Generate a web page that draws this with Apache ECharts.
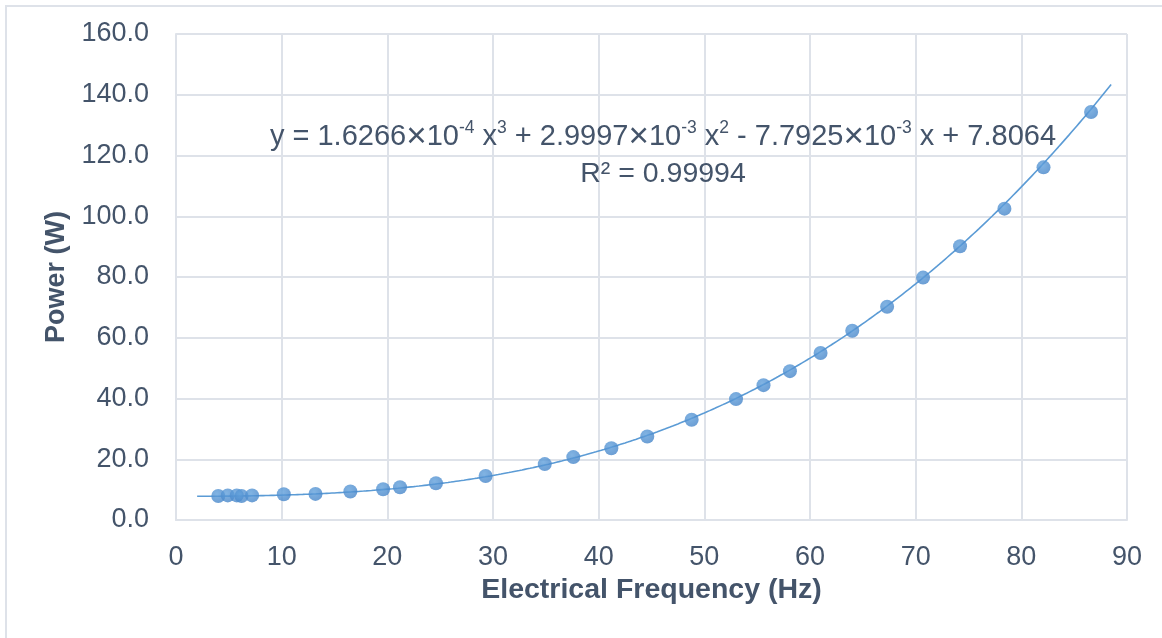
<!DOCTYPE html>
<html>
<head>
<meta charset="utf-8">
<script src="https://cdn.jsdelivr.net/npm/echarts@6/dist/echarts.min.js"></script>
<style>
  html, body { margin: 0; padding: 0; background: #ffffff; }
  #chart { width: 1162px; height: 638px; }
</style>
</head>
<body>
<div id="chart"></div>
<script>
// Measured power draw against electrical frequency
const frequencyHz = [4.0, 4.9, 5.75, 6.2, 7.2, 10.2, 13.2, 16.5, 19.6, 21.2, 24.6, 29.3, 34.9, 37.6,
                     41.2, 44.6, 48.8, 53.0, 55.6, 58.1, 61.0, 64.0, 67.3, 70.7, 74.2, 78.4, 82.1, 86.6];
const powerW = [7.9, 8.1, 8.1, 7.9, 8.1, 8.5, 8.6, 9.4, 10.1, 10.8, 12.1, 14.5, 18.4, 20.7,
                23.6, 27.5, 33.0, 39.8, 44.4, 49.0, 55.0, 62.3, 70.2, 79.8, 90.1, 102.5, 116.1, 134.3];

// Cubic trendline coefficients (x^3, x^2, x, constant) and fit quality
const trendCoef = [1.6266e-4, 2.9997e-3, -7.7925e-3, 7.8064];
const rSquared = 0.99994;
const trendRange = [2.0, 88.5];

const xTicks = [0, 90, 10];   // min, max, interval
const yTicks = [0, 160, 20];

const textColor = '#44546A';
const gridColor = '#DEE2E9';
const seriesColor = '#5B9BD5';
const fontFamily = '"Liberation Sans", Arial, Helvetica, sans-serif';

function trendValue(x) {
  return ((trendCoef[0] * x + trendCoef[1]) * x + trendCoef[2]) * x + trendCoef[3];
}

const trendPoints = [];
for (let x = trendRange[0]; x <= trendRange[1] + 1e-9; x += 0.25) {
  trendPoints.push([x, trendValue(x)]);
}

const scatterPoints = frequencyHz.map((f, i) => [f, powerW[i]]);

// Coefficient as "m×10{s|e}" rich-text fragment
function sci(v) {
  const a = Math.abs(v);
  if (a >= 1) return a.toFixed(4);
  const e = Math.floor(Math.log10(a));
  const m = a / Math.pow(10, e);
  return m.toFixed(4) + '{m|×}10{s|' + e + '}';
}
function sign(v) { return v < 0 ? ' - ' : ' + '; }

const eqText = 'y = ' + sci(trendCoef[0]) + ' x{s|3}' +
               sign(trendCoef[1]) + sci(trendCoef[1]) + ' x{s|2}' +
               sign(trendCoef[2]) + sci(trendCoef[2]) + ' x' +
               sign(trendCoef[3]) + sci(trendCoef[3]);
const r2Text = 'R² = ' + rSquared.toFixed(5);

const chart = echarts.init(document.getElementById('chart'), null, { renderer: 'canvas' });

chart.setOption({
  backgroundColor: '#ffffff',
  animation: false,
  textStyle: { fontFamily: fontFamily },
  grid: { left: 176, right: 35, top: 34, bottom: 118, containLabel: false },
  xAxis: {
    type: 'value',
    min: xTicks[0], max: xTicks[1], interval: xTicks[2],
    name: 'Electrical Frequency (Hz)',
    nameLocation: 'middle',
    nameGap: 56,
    nameTextStyle: { color: textColor, fontSize: 28.5, fontWeight: 'bold', fontFamily: fontFamily },
    axisLine: { show: true, lineStyle: { color: gridColor, width: 2 } },
    axisTick: { show: false },
    axisLabel: { color: textColor, fontSize: 27, margin: 24, fontFamily: fontFamily },
    splitLine: { show: true, lineStyle: { color: gridColor, width: 2 } }
  },
  yAxis: {
    type: 'value',
    min: yTicks[0], max: yTicks[1], interval: yTicks[2],
    name: 'Power (W)',
    nameLocation: 'middle',
    nameGap: 106,
    nameRotate: 90,
    nameTextStyle: { color: textColor, fontSize: 27, fontWeight: 'bold', fontFamily: fontFamily },
    axisLine: { show: true, lineStyle: { color: gridColor, width: 2 } },
    axisTick: { show: false },
    axisLabel: {
      color: textColor, fontSize: 27, margin: 27, fontFamily: fontFamily,
      padding: [4, 0, 0, 0],
      formatter: v => v.toFixed(1)
    },
    splitLine: { show: true, lineStyle: { color: gridColor, width: 2 } }
  },
  series: [
    {
      name: 'Trendline',
      type: 'line',
      data: trendPoints,
      showSymbol: false,
      smooth: false,
      lineStyle: { color: seriesColor, width: 1.6 },
      z: 2,
      silent: true
    },
    {
      name: 'Power',
      type: 'scatter',
      data: scatterPoints,
      symbol: 'circle',
      symbolSize: 14,
      itemStyle: {
        color: {
          type: 'radial', x: 0.4, y: 0.35, r: 0.7,
          colorStops: [
            { offset: 0, color: '#62A1DC' },
            { offset: 1, color: '#4584C8' }
          ]
        }
      },
      z: 3
    }
  ],
  graphic: [
    {
      type: 'rect',
      shape: { x: 6, y: 6, width: 1200, height: 700 },
      style: { fill: 'none', stroke: '#DEE2E9', lineWidth: 2 },
      silent: true,
      z: 0
    },
    {
      type: 'text',
      x: 663, y: 137,
      style: {
        text: eqText,
        fill: textColor,
        fontSize: 29,
        fontFamily: fontFamily,
        align: 'center',
        verticalAlign: 'middle',
        rich: {
          s: { fontSize: 17.5, fill: textColor, fontFamily: fontFamily, verticalAlign: 'top', padding: [0, 0, 8, 0] },
          m: { fontSize: 35, fill: textColor, fontFamily: fontFamily }
        }
      },
      z: 10
    },
    {
      type: 'text',
      x: 663, y: 174,
      style: {
        text: r2Text,
        fill: textColor,
        fontSize: 28.5,
        fontFamily: fontFamily,
        align: 'center',
        verticalAlign: 'middle'
      },
      z: 10
    }
  ]
});
</script>
</body>
</html>
